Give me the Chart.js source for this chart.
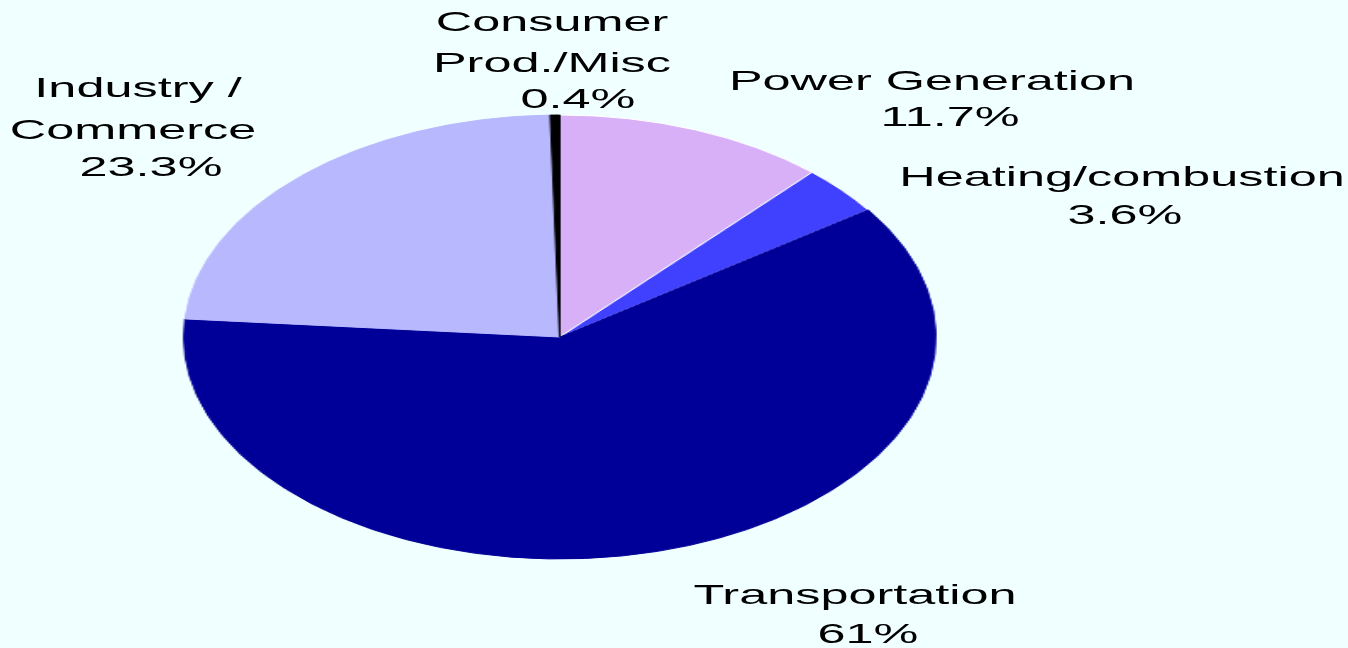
<!DOCTYPE html>
<html>
<head>
<meta charset="utf-8">
<script src="https://cdn.jsdelivr.net/npm/chart.js@4/dist/chart.umd.min.js"></script>
<style>
  html, body { margin:0; padding:0; background:#f0ffff; width:1348px; height:648px; overflow:hidden; }
  #wrap { position:absolute; left:0; top:0; width:796px; height:648px; transform-origin:0 0; transform:scaleX(1.6937); }
  .lbl { position:absolute; font-family:"Liberation Sans", Arial, sans-serif; font-size:28px; line-height:28px;
         color:#000; white-space:nowrap; transform:translate(-50%,-50%) scaleX(1.8); }
</style>
</head>
<body>
<div id="wrap"><canvas id="c"></canvas></div>
<div id="labels"></div>
<script>
const categories = ["Power Generation", "Heating/combustion", "Transportation", "Industry / Commerce", "Consumer Prod./Misc"];
const shares = [11.7, 3.6, 61, 23.3, 0.4];
const shareLabels = ["11.7%", "3.6%", "61%", "23.3%", "0.4%"];
const sliceColors = ["#d8b0f8", "#4040ff", "#000098", "#b8b8ff", "#000000"];

new Chart(document.getElementById('c'), {
  type: 'pie',
  data: {
    labels: categories,
    datasets: [{
      data: shares,
      backgroundColor: sliceColors,
      borderColor: ["#ffffff", "#ffffff", "#000098", "#b8b8ff", "#000000"],
      borderWidth: 1
    }]
  },
  options: {
    responsive: true,
    maintainAspectRatio: false,
    animation: false,
    events: [],
    layout: { padding: { left: 108, right: 243, top: 114.5, bottom: 88.5 } },
    plugins: { legend: { display: false }, tooltip: { enabled: false } }
  }
});

// label lines: [text, centerX, centerY]
const labelLines = [
  ["Consumer", 552, 22], ["Prod./Misc", 552, 63], [shareLabels[4], 578, 99],
  ["Industry /", 138, 88], ["Commerce", 133, 130], [shareLabels[3], 151, 167],
  ["Power Generation", 932, 81], [shareLabels[0], 950, 117],
  ["Heating/combustion", 1122, 177], [shareLabels[1], 1125, 215],
  ["Transportation", 855, 595], [shareLabels[2], 868, 634]
];
const host = document.getElementById('labels');
labelLines.forEach(([t, x, y]) => {
  const d = document.createElement('div');
  d.className = 'lbl';
  d.textContent = t;
  d.style.left = x + 'px';
  d.style.top = y + 'px';
  host.appendChild(d);
});
</script>
</body>
</html>
